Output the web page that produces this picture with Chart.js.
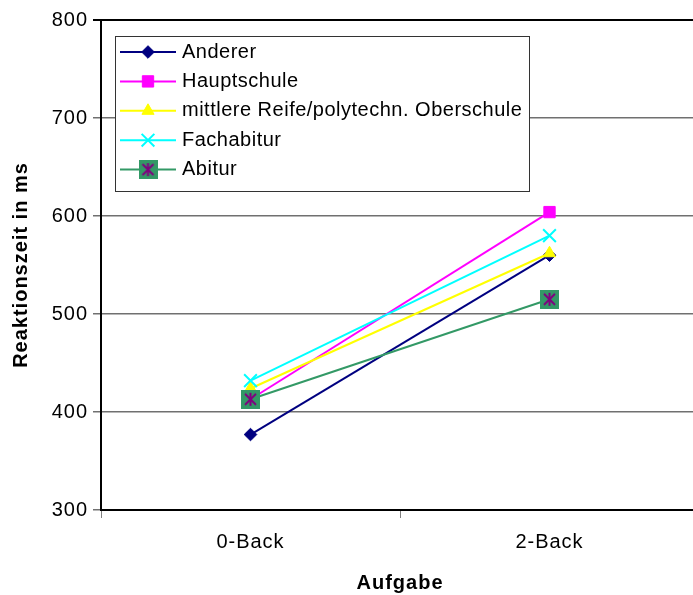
<!DOCTYPE html>
<html>
<head>
<meta charset="utf-8">
<script src="https://cdn.jsdelivr.net/npm/chart.js@4/dist/chart.umd.min.js"></script>
<style>
  html, body { margin: 0; padding: 0; overflow: hidden; background: #fff; }
  canvas { display: block; }
</style>
</head>
<body>
<canvas id="chart" width="710" height="595"></canvas>
<script>
// Reaction times (ms) per task and school leaving qualification
const categories = ['0-Back', '2-Back'];
const seriesNames = ['Anderer', 'Hauptschule', 'mittlere Reife/polytechn. Oberschule', 'Fachabitur', 'Abitur'];
const anderer = [377, 560];
const hauptschule = [413, 604];
const mittlereReife = [424, 562];
const fachabitur = [432, 580];
const abitur = [413, 515];
const yTicks = [300, 400, 500, 600, 700, 800];

const FONT = 'Liberation Sans, Arial, Helvetica, sans-serif';

// Green square with a purple asterisk on top
function makeAbiturMarker() {
  const c = document.createElement('canvas');
  c.width = 19; c.height = 19;
  const g = c.getContext('2d');
  g.fillStyle = '#339966';
  g.fillRect(0, 0, 19, 19);
  g.strokeStyle = '#800080';
  g.lineWidth = 2;
  g.beginPath();
  g.moveTo(9.5, 3); g.lineTo(9.5, 16);
  g.moveTo(4, 4); g.lineTo(15, 15);
  g.moveTo(15, 4); g.lineTo(4, 15);
  g.stroke();
  return c;
}
const abiturMarker = makeAbiturMarker();

const styles = [
  { color: '#000080', pointStyle: 'rectRot', radius: 6.3, borderWidth: 1 },
  { color: '#FF00FF', pointStyle: 'rect', radius: 8, borderWidth: 1 },
  { color: '#FFFF00', pointStyle: 'triangle', radius: 7, borderWidth: 1 },
  { color: '#00FFFF', pointStyle: 'crossRot', radius: 9, borderWidth: 2 },
  { color: '#339966', pointStyle: abiturMarker, radius: 10, borderWidth: 0 }
];
const seriesValues = [anderer, hauptschule, mittlereReife, fachabitur, abitur];

const datasets = seriesNames.map((name, i) => ({
  label: name,
  data: seriesValues[i],
  borderColor: styles[i].color,
  backgroundColor: styles[i].color,
  borderWidth: 2,
  pointStyle: styles[i].pointStyle,
  pointRadius: styles[i].radius,
  pointBorderWidth: styles[i].borderWidth,
  pointBackgroundColor: styles[i].color,
  pointBorderColor: styles[i].color,
  tension: 0,
  order: seriesNames.length - i
}));

// Letter spacing similar to the spreadsheet text rendering
const spacingPlugin = {
  id: 'spacing',
  beforeDraw(chart) { chart.ctx.letterSpacing = '1px'; }
};

// Boxed legend inside the plot area, line sample with marker
const boxedLegend = {
  id: 'boxedLegend',
  afterDraw(chart) {
    const ctx = chart.ctx;
    const area = chart.chartArea;
    const left = area.left + 14, top = area.top + 16;
    const w = 414, h = 155;
    ctx.save();
    ctx.letterSpacing = '0.5px';
    ctx.fillStyle = '#fff';
    ctx.fillRect(left, top, w, h);
    ctx.strokeStyle = '#333';
    ctx.lineWidth = 1;
    ctx.strokeRect(left + 0.5, top + 0.5, w, h);
    chart.data.datasets.forEach((ds, i) => {
      const y = top + 16 + i * 29.4;
      ctx.strokeStyle = ds.borderColor;
      ctx.lineWidth = 2;
      ctx.beginPath();
      ctx.moveTo(left + 5, y);
      ctx.lineTo(left + 61, y);
      ctx.stroke();
      ctx.fillStyle = ds.pointBackgroundColor;
      ctx.strokeStyle = ds.pointBorderColor;
      ctx.lineWidth = ds.pointBorderWidth;
      Chart.helpers.drawPoint(ctx, {
        pointStyle: ds.pointStyle,
        radius: ds.pointRadius,
        rotation: 0,
        borderWidth: ds.pointBorderWidth
      }, left + 33, y);
      ctx.fillStyle = '#000';
      ctx.font = '20px ' + FONT;
      ctx.textAlign = 'left';
      ctx.textBaseline = 'middle';
      ctx.fillText(ds.label, left + 67, y);
    });
    ctx.restore();
  }
};

new Chart(document.getElementById('chart'), {
  type: 'line',
  data: { labels: categories, datasets },
  plugins: [spacingPlugin, boxedLegend],
  options: {
    responsive: false,
    animation: false,
    devicePixelRatio: 1,
    layout: { padding: { top: 20, right: 0, bottom: 0, left: 0 } },
    plugins: { legend: { display: false }, tooltip: { enabled: false } },
    elements: { line: { fill: false } },
    scales: {
      x: {
        offset: true,
        afterFit: s => { s.height = 85; s.paddingLeft = 0; s.paddingRight = 0; },
        grid: { offset: true, drawOnChartArea: false, drawTicks: true, tickLength: 8, color: '#808080', lineWidth: 1 },
        border: { display: true, color: '#000', width: 2 },
        ticks: { color: '#000', font: { family: FONT, size: 20 }, padding: 12, maxRotation: 0 },
        title: { display: true, text: 'Aufgabe', color: '#000', font: { family: FONT, size: 20, weight: 'bold' }, padding: { top: 0, bottom: 0 } }
      },
      y: {
        min: 300,
        max: 800,
        afterFit: s => { s.width = 101; },
        afterBuildTicks: s => { s.ticks = yTicks.map(v => ({ value: v })); },
        grid: {
          color: c => (c.tick && c.tick.value === 800) ? '#000' : '#707070',
          lineWidth: c => (c.tick && c.tick.value === 800) ? 2 : 1.5,
          tickLength: 8
        },
        border: { display: true, color: '#000', width: 2 },
        ticks: { color: '#000', font: { family: FONT, size: 20 }, padding: 5 },
        title: { display: true, text: 'Reaktionszeit in ms', color: '#000', font: { family: FONT, size: 20, weight: 'bold' }, padding: { top: 9, bottom: 0 } }
      }
    }
  }
});
</script>
</body>
</html>
